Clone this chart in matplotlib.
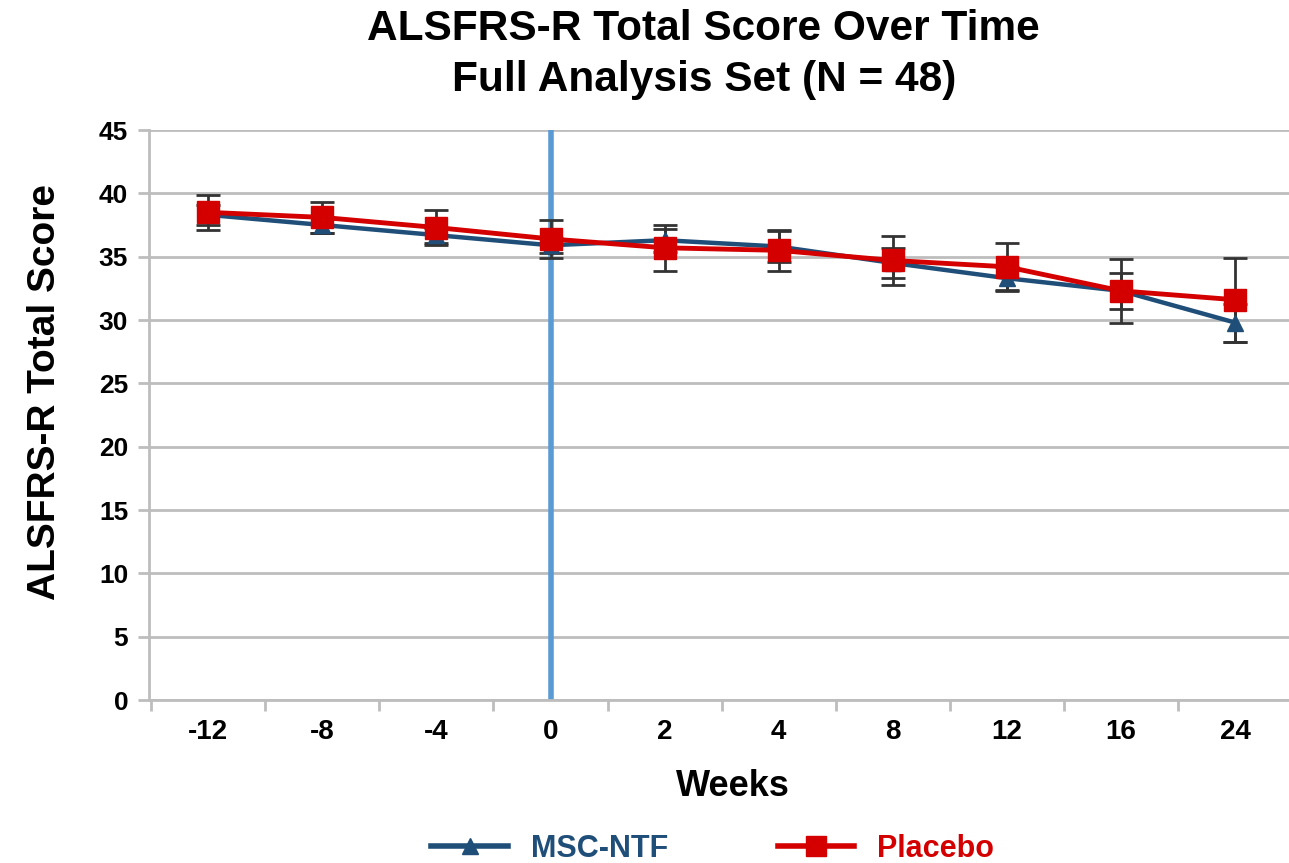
import numpy as np
import matplotlib.pyplot as plt
from matplotlib.lines import Line2D

plt.rcParams["font.family"] = ["Liberation Sans", "DejaVu Sans"]
plt.rcParams["font.weight"] = "bold"

# visit labels (weeks relative to treatment)
weeks = ["-12", "-8", "-4", "0", "2", "4", "8", "12", "16", "24"]

msc_mean = [38.3, 37.5, 36.7, 35.9, 36.3, 35.8, 34.5, 33.3, 32.3, 29.8]
msc_err = [0.8, 0.6, 0.6, 0.6, 0.9, 1.2, 1.2, 0.9, 1.4, 1.5]

pbo_mean = [38.5, 38.1, 37.3, 36.4, 35.7, 35.5, 34.7, 34.2, 32.3, 31.6]
pbo_err = [1.4, 1.2, 1.4, 1.5, 1.8, 1.6, 1.9, 1.9, 2.5, 3.3]

BLUE = "#1f4e79"
RED = "#d40000"
GRID = "#bdbdbd"

fig = plt.figure(figsize=(12.89, 8.63), dpi=100)
ax = fig.add_axes([149 / 1289, 1 - 700 / 863, 1143 / 1289, 570 / 863])

x = np.arange(len(weeks))

ax.errorbar(x, msc_mean, yerr=msc_err, fmt="none", ecolor="#333333",
            elinewidth=2, capsize=8.5, capthick=2, zorder=3)
ax.errorbar(x, pbo_mean, yerr=pbo_err, fmt="none", ecolor="#333333",
            elinewidth=2, capsize=8.5, capthick=2, zorder=3)
ax.plot(x, msc_mean, color=BLUE, lw=3.2, marker="^", ms=11, zorder=4)
ax.plot(x, pbo_mean, color=RED, lw=3.5, marker="s", ms=16, zorder=5)

# treatment start
ax.axvline(weeks.index("0"), color="#5b9bd5", lw=4, zorder=2)

ax.set_xlim(-0.52, 9.5)
ax.set_ylim(0, 45)
ax.set_yticks(range(0, 46, 5))
ax.set_xticks(x)
ax.set_xticklabels(weeks)
ax.set_xticks(np.arange(-0.5, 10, 1), minor=True)

ax.yaxis.grid(True, color=GRID, lw=2)
ax.set_axisbelow(True)
for side in ["top", "right"]:
    ax.spines[side].set_visible(False)
for side in ["left", "bottom"]:
    ax.spines[side].set_color(GRID)
    ax.spines[side].set_linewidth(2)

ax.tick_params(axis="y", length=8, width=2, color=GRID, labelsize=19, pad=7)
ax.tick_params(axis="x", which="major", length=0, labelsize=20, pad=14)
ax.tick_params(axis="x", which="minor", length=8, width=2, color=GRID)
for lbl in ax.get_xticklabels() + ax.get_yticklabels():
    lbl.set_fontweight("bold")

ax.set_xlabel("Weeks", fontsize=26, fontweight="bold")
ax.xaxis.set_label_coords((733 - 149) / 1143, -(787 - 700) / 570)
ax.set_ylabel("ALSFRS-R Total Score", fontsize=28, fontweight="bold")
ax.yaxis.set_label_coords(-(149 - 45) / 1143, (700 - 392) / 570)
ax.yaxis.label.set_va("center")
ax.xaxis.label.set_va("center")

fig.suptitle("ALSFRS-R Total Score Over Time\nFull Analysis Set (N = 48)",
             x=0.546, y=0.99, fontsize=30.5, fontweight="bold", linespacing=1.38)

handles = [
    Line2D([], [], color=BLUE, lw=4, marker="^", ms=11),
    Line2D([], [], color=RED, lw=4, marker="s", ms=15),
]
leg = fig.legend(handles, ["MSC-NTF", "Placebo"], ncol=2, frameon=False,
                 loc="center", bbox_to_anchor=(0.553, 0.016),
                 prop={"size": 22, "weight": "bold"},
                 handlelength=2.5, columnspacing=3.6, handletextpad=0.75)
for txt, c in zip(leg.get_texts(), [BLUE, RED]):
    txt.set_color(c)

fig.savefig("out.png", dpi=100)
